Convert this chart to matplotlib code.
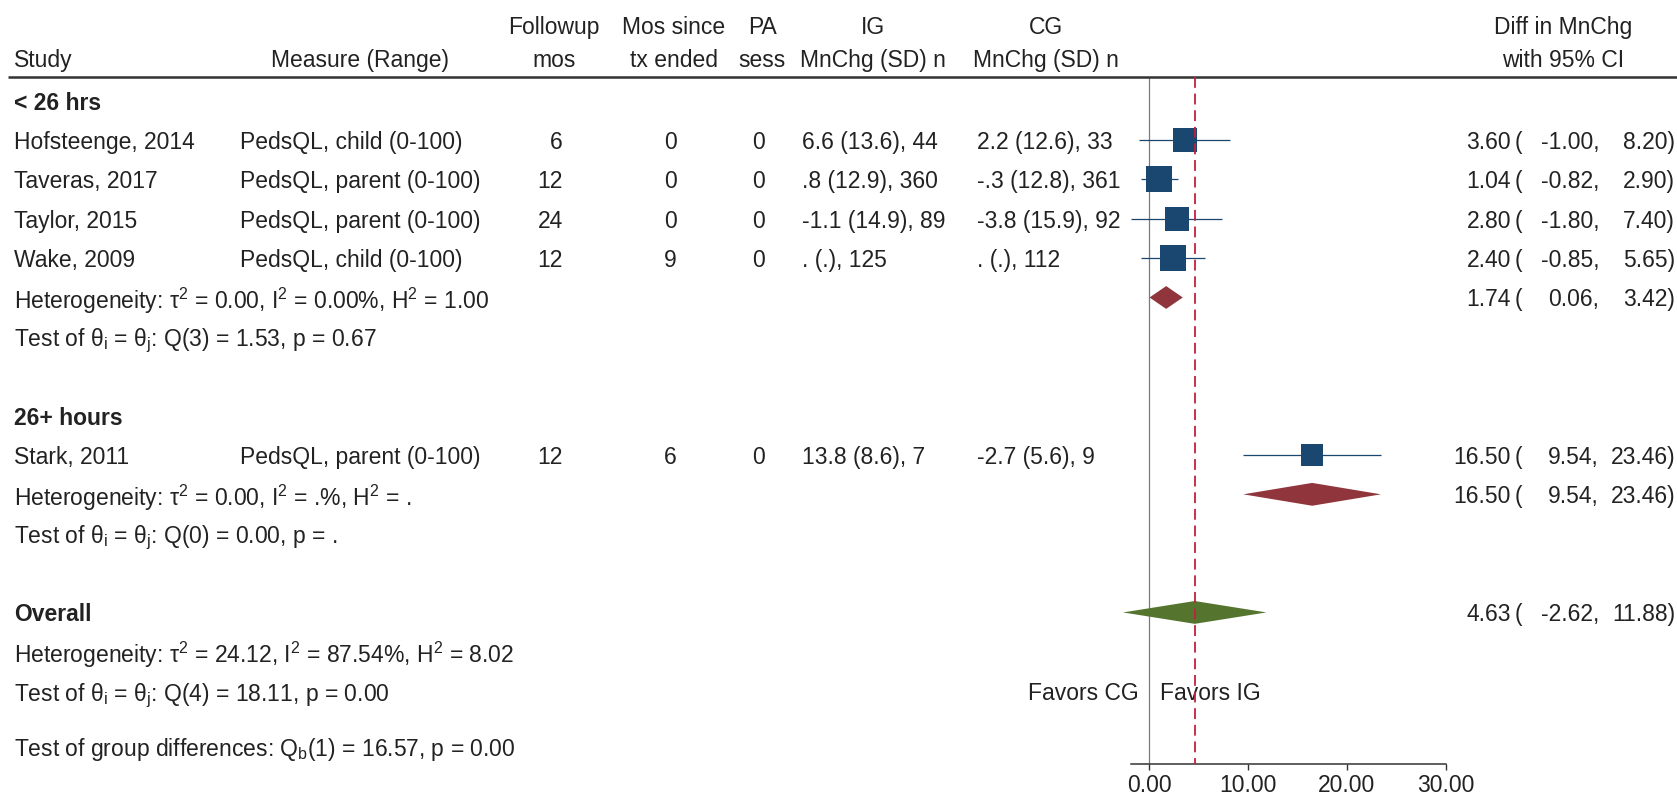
import numpy as np
import matplotlib
matplotlib.use("Agg")
import matplotlib.pyplot as plt
import matplotlib.transforms as mtransforms

plt.rcParams['font.family'] = ['Liberation Sans', 'DejaVu Sans']
plt.rcParams['mathtext.fontset'] = 'custom'
plt.rcParams['mathtext.rm'] = 'Liberation Sans'
plt.rcParams['mathtext.it'] = 'Liberation Sans:italic'
plt.rcParams['mathtext.bf'] = 'Liberation Sans:bold'

# ---------------- data ----------------
studies = ["Hofsteenge, 2014", "Taveras, 2017", "Taylor, 2015", "Wake, 2009", "Stark, 2011"]
measures = ["PedsQL, child (0-100)", "PedsQL, parent (0-100)", "PedsQL, parent (0-100)",
            "PedsQL, child (0-100)", "PedsQL, parent (0-100)"]
followup = [6, 12, 24, 12, 12]
mos_since = [0, 0, 0, 9, 6]
pa_sess = [0, 0, 0, 0, 0]
ig_stats = ["6.6 (13.6), 44", ".8 (12.9), 360", "-1.1 (14.9), 89", ". (.), 125", "13.8 (8.6), 7"]
cg_stats = ["2.2 (12.6), 33", "-.3 (12.8), 361", "-3.8 (15.9), 92", ". (.), 112", "-2.7 (5.6), 9"]
est = [3.60, 1.04, 2.80, 2.40, 16.50]
lo = [-1.00, -0.82, -1.80, -0.85, 9.54]
hi = [8.20, 2.90, 7.40, 5.65, 23.46]
study_group = [0, 0, 0, 0, 1]

group_names = ["< 26 hrs", "26+ hours"]
group_est = [1.74, 16.50]
group_lo = [0.06, 9.54]
group_hi = [3.42, 23.46]
group_het = ["Heterogeneity: τ$^\\mathregular{2}$ = 0.00, I$^\\mathregular{2}$ = 0.00%, H$^\\mathregular{2}$ = 1.00",
             "Heterogeneity: τ$^\\mathregular{2}$ = 0.00, I$^\\mathregular{2}$ = .%, H$^\\mathregular{2}$ = ."]
group_test = ["Test of θ$_\\mathregular{i}$ = θ$_\\mathregular{j}$: Q(3) = 1.53, p = 0.67",
              "Test of θ$_\\mathregular{i}$ = θ$_\\mathregular{j}$: Q(0) = 0.00, p = ."]

overall_est, overall_lo, overall_hi = 4.63, -2.62, 11.88
overall_tau2 = 24.12
overall_het = "Heterogeneity: τ$^\\mathregular{2}$ = 24.12, I$^\\mathregular{2}$ = 87.54%, H$^\\mathregular{2}$ = 8.02"
overall_test = "Test of θ$_\\mathregular{i}$ = θ$_\\mathregular{j}$: Q(4) = 18.11, p = 0.00"
group_diff = "Test of group differences: Q$_\\mathregular{b}$(1) = 16.57, p = 0.00"

x_ticks = [0, 10, 20, 30]
x_ticklabels = ["0.00", "10.00", "20.00", "30.00"]

# ---------------- layout ----------------
W, H = 1677, 794
fig = plt.figure(figsize=(W / 100, H / 100), dpi=100)
fig.patch.set_facecolor("white")

ax = fig.add_axes([1099.5 / W, 30 / H, 395.6 / W, 764 / H])
ax.set_xlim(-5, 35)
ax.set_ylim(16.85, -2.556)
ax.patch.set_alpha(0)
for s in ["left", "top", "right"]:
    ax.spines[s].set_visible(False)
ax.spines["bottom"].set_bounds(min(lo), x_ticks[-1])
ax.spines["bottom"].set_color("#333333")
ax.spines["bottom"].set_linewidth(1.1)
ax.set_yticks([])
ax.set_xticks(x_ticks)
ax.set_xticklabels(x_ticklabels)
ax.tick_params(axis="x", length=4, width=1, color="#333333", pad=3,
               labelsize=16.5, labelcolor="#222222")

TXT = "#222222"
FS = 16.5
tr = mtransforms.blended_transform_factory(fig.transFigure, ax.transData)


def put(px, row, s, ha="left", bold=False):
    ax.text(px / W, row, s, transform=tr, ha=ha, va="center_baseline", fontsize=FS,
            color=TXT, fontweight="bold" if bold else "normal", clip_on=False)


HEADER_LINE = -0.6
r1, r2 = -1.92, -1.08
put(14, r2, "Study")
put(360, r2, "Measure (Range)", ha="center")
put(554, r1, "Followup", ha="center"); put(554, r2, "mos", ha="center")
put(674, r1, "Mos since", ha="center"); put(674, r2, "tx ended", ha="center")
put(762, r1, "PA", ha="center"); put(762, r2, "sess", ha="center")
put(873, r1, "IG", ha="center"); put(873, r2, "MnChg (SD) n", ha="center")
put(1046, r1, "CG", ha="center"); put(1046, r2, "MnChg (SD) n", ha="center")
put(1563, r1, "Diff in MnChg", ha="center"); put(1563, r2, "with 95% CI", ha="center")

ax.plot([8 / W, 1.0], [HEADER_LINE, HEADER_LINE], transform=tr, color="#333333",
        lw=1.8, clip_on=False, solid_capstyle="butt")

# rows
group_rows = [0, 8]
study_rows = []
for g in range(len(group_names)):
    members = [i for i, sg in enumerate(study_group) if sg == g]
    for k, i in enumerate(members):
        study_rows.append((i, group_rows[g] + 1 + k))
study_rows.sort()
rows = np.array([r for _, r in study_rows], dtype=float)
group_summary_rows = [group_rows[g] + 1 + study_group.count(g) for g in range(2)]
overall_row = 13


def ci_text(row, e, l, h):
    put(1511, row, f"{e:.2f}", ha="right")
    put(1515, row, "(")
    put(1599, row, f"{l:.2f},", ha="right")
    put(1675, row, f"{h:.2f})", ha="right")


for g in range(2):
    put(14, group_rows[g], group_names[g], bold=True)
    put(14, group_summary_rows[g], group_het[g])
    put(14, group_summary_rows[g] + 1, group_test[g])
    ci_text(group_summary_rows[g], group_est[g], group_lo[g], group_hi[g])

for i, row in enumerate(rows):
    put(14, row, studies[i])
    put(240, row, measures[i])
    put(563, row, str(followup[i]), ha="right")
    put(677, row, str(mos_since[i]), ha="right")
    put(765, row, str(pa_sess[i]), ha="right")
    put(802, row, ig_stats[i])
    put(977, row, cg_stats[i])
    ci_text(row, est[i], lo[i], hi[i])

put(14, overall_row, "Overall", bold=True)
put(14, overall_row + 1, overall_het)
put(14, overall_row + 2, overall_test)
put(14, 16.39, group_diff)
ci_text(overall_row, overall_est, overall_lo, overall_hi)

# reference lines
ax.vlines(0, HEADER_LINE, 16.85, color="#7a7a7a", lw=0.9, zorder=1)
ax.vlines(overall_est, HEADER_LINE, 16.85, color="#c0213f", lw=1.3,
          linestyles=(0, (6, 3.2)), zorder=4)

# study markers (size from random-effects weights)
NAVY = "#1a476f"
est_a, lo_a, hi_a = np.array(est), np.array(lo), np.array(hi)
se = (hi_a - lo_a) / (2 * 1.959964)
w = 1.0 / (se ** 2 + overall_tau2)
side_px = 26 * np.sqrt(w / w.max())
ax.hlines(rows, lo_a, hi_a, color=NAVY, lw=0.9, zorder=2)
for e, r, sp in zip(est_a, rows, side_px):
    ax.plot([e], [r], marker="s", ms=sp * 0.72, color=NAVY, mew=0, zorder=3)

# diamonds
DH = 0.29
def diamond(row, e, l, h, color):
    ax.fill([l, e, h, e], [row, row - DH, row, row + DH], color=color, lw=0, zorder=3)

for g in range(2):
    diamond(group_summary_rows[g], group_est[g], group_lo[g], group_hi[g], "#90353b")
diamond(overall_row, overall_est, overall_lo, overall_hi, "#55752f")

# favours labels
ax.annotate("Favors CG", xy=(0, 15), xytext=(-7, 0), textcoords="offset points",
            ha="right", va="center_baseline", fontsize=FS, color=TXT)
ax.annotate("Favors IG", xy=(0, 15), xytext=(8, 0), textcoords="offset points",
            ha="left", va="center_baseline", fontsize=FS, color=TXT)

fig.savefig("out.png", dpi=100, facecolor="white")
